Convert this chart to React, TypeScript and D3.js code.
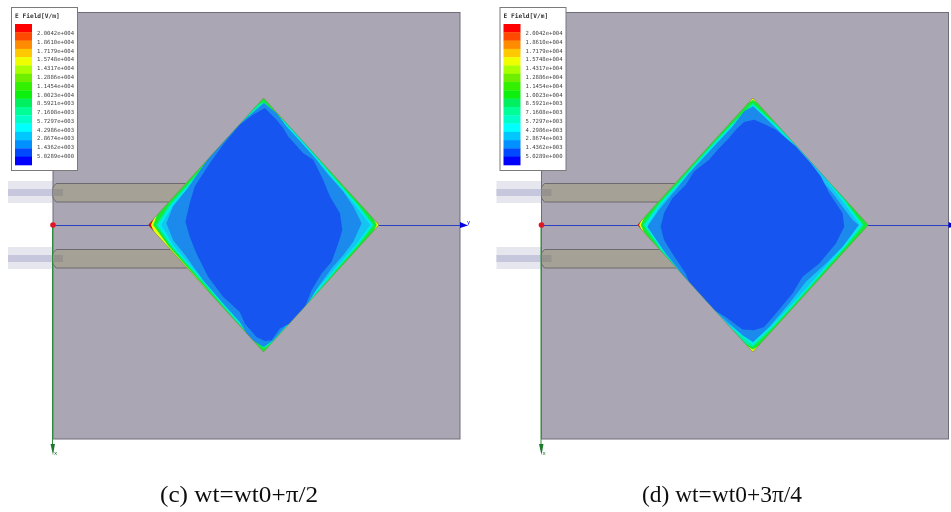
import React from "react";
import * as d3 from "d3";

// ---- legend ----
const legendTitle = "E Field[V/m]";
const legendLabels = ["2.0042e+004","1.8610e+004","1.7179e+004","1.5748e+004","1.4317e+004","1.2886e+004","1.1454e+004","1.0023e+004","8.5921e+003","7.1608e+003","5.7297e+003","4.2986e+003","2.8674e+003","1.4362e+003","5.0289e+000"];
const legendColors = ["#ff0000","#ff4a00","#ff8c00","#ffc800","#f0ff00","#aaff00","#6eee00","#30f000","#10f010","#00f060","#00ff96","#00ffc8","#00ffff","#00c8ff","#0090ff","#0048ff","#0000ff"];

// ---- contour levels, scale factor towards the patch centre, sampled clockwise from the top vertex (24 samples) ----
const cYellow = [1,1,1,1,1,1,1,1,1,1,1,1,1,1,1,1,1,1,0.975,1,1,1,1,1];
const cGreen  = [1,1,1,1,1,1,0.98,1,1,1,1,1,1,1,1,0.997,0.993,0.988,0.955,1,1,1,1,1];
const cTeal   = [0.97,0.995,1,0.995,0.985,0.98,0.955,0.98,0.985,0.995,1,1,0.97,0.995,0.99,0.98,0.975,0.97,0.93,0.975,0.975,0.985,0.995,1];
const cCyan   = [0.96,0.99,0.995,0.985,0.975,0.97,0.945,0.97,0.975,0.985,0.99,0.995,0.96,0.985,0.98,0.97,0.965,0.96,0.915,0.96,0.965,0.975,0.99,0.995];
const cSky    = [0.94,0.975,0.98,0.97,0.96,0.95,0.925,0.955,0.96,0.97,0.975,0.98,0.94,0.97,0.965,0.955,0.95,0.94,0.885,0.94,0.95,0.96,0.975,0.98];
const dYellow = [1,1,1,1,1,1,1,1,1,1,1,1,1,1,1,1,1,1,0.985,1,1,1,1,1];
const dGreen  = [0.985,1,1,1,1,1,1,1,1,1,1,1,0.98,1,1,1,1,1,0.97,1,1,1,1,1];
const dTeal   = [0.96,0.985,1,1,1,0.985,0.96,0.975,0.98,0.985,0.985,0.98,0.96,1,1,1,1,0.985,0.95,0.98,0.98,0.985,0.985,0.975];
const dCyan   = [0.945,0.975,0.995,1,0.995,0.975,0.945,0.965,0.97,0.975,0.975,0.97,0.945,0.99,1,1,0.995,0.975,0.935,0.97,0.97,0.975,0.975,0.965];
const dSky    = [0.925,0.96,0.985,1,0.985,0.96,0.925,0.95,0.955,0.96,0.96,0.955,0.925,0.975,1,1,0.985,0.96,0.91,0.955,0.955,0.96,0.96,0.95];
const bandColors = ["#e8ff00","#18e838","#00f0a0","#00ecec","#14c4f2"];

// ---- inner contours in patch units (x 25..717, y 25..785) ----
const cLightX = [372,410,440,490,530,565,610,640,665,640,610,575,535,500,440,400,372,330,300,250,190,140,100,80,100,140,175,220,270,320];
const cLightY = [40,70,110,165,210,255,305,350,400,455,495,535,590,645,705,750,770,745,695,640,570,500,450,400,350,300,250,185,130,85];
const cDarkX = [375,410,430,445,490,520,550,570,600,607,595,575,545,515,495,450,420,395,375,350,315,300,250,205,170,150,137,150,165,210,250,300,340];
const cDarkY = [55,90,115,140,190,210,270,320,370,420,460,515,550,600,650,700,715,750,752,740,700,665,620,560,490,440,395,340,290,220,165,105,75];
const dLightX = [372,410,440,490,530,560,610,670,688,640,590,530,480,420,372,340,290,240,180,150,110,55,90,140,180,250,310,345];
const dLightY = [50,85,115,165,210,250,310,390,405,470,520,575,640,710,755,735,690,645,580,540,490,410,360,300,250,175,110,65];
const dDarkX = [375,345,320,300,270,240,195,170,130,105,95,105,130,170,190,240,290,340,375,405,440,490,520,570,620,645,640,600,575,545,500,440,410];
const dDarkY = [90,97,120,145,175,210,245,285,325,370,410,450,490,550,600,650,680,718,720,710,670,610,560,520,460,410,370,310,260,220,170,120,105];

const captions = ["(c) wt=wt0+π/2", "(d) wt=wt0+3π/4"];
const stripes = [183, 249];

const patchX = d3.scaleLinear().domain([25, 717]).range([148, 379]);
const patchY = d3.scaleLinear().domain([25, 785]).range([98, 352]);
const cx = 371, cy = 405;

const perim = (i: number): [number, number] => {
  const corners: [number, number][] = [[cx, 25], [717, cy], [cx, 785], [25, cy]];
  const e = Math.floor(i / 6) % 4;
  const t = (i % 6) / 6;
  const a = corners[e], b = corners[(e + 1) % 4];
  return [a[0] + (b[0] - a[0]) * t, a[1] + (b[1] - a[1]) * t];
};
const line = d3.line<[number, number]>().x(d => patchX(d[0])).y(d => patchY(d[1])).curve(d3.curveLinearClosed);
// samples that reach the edge are pushed outside it, the clip trims them
const bandPath = (s: number[]) => line(s.map((v, i) => {
  const [x, y] = perim(i);
  const k = v >= 1 ? 1.06 : v;
  return [cx + (x - cx) * k, cy + (y - cy) * k] as [number, number];
}))!;
const polyPath = (xs: number[], ys: number[]) => line(xs.map((x, i) => [x, ys[i]] as [number, number]))!;
const diamond = line(d3.range(24).map(perim))!;

const legendY = d3.scaleBand<number>().domain(d3.range(legendColors.length)).range([24, 165]);
const labelY = d3.scalePoint<number>().domain(d3.range(legendLabels.length)).range([33, 156]);

function Panel({ id, bands, light, dark, caption, captionX, captionW, dx, shift, clipRight, showY }: any) {
  return (
    <g transform={`translate(${dx},0)`}>
      {stripes.map(y => (
        <g key={y}>
          <rect x={8} y={y - 2} width={45} height={22} fill="#e6e6ee" />
          <rect x={8} y={y + 6} width={45} height={7} fill="#c6c6dc" />
        </g>
      ))}
      <rect x={53} y={12.5} width={407} height={426.5} fill="#aba6b4" stroke="#6f6c78" strokeWidth={1} />
      {stripes.map(y => (
        <g key={y}>
          <path d={`M56,${y + 0.5}H190V${y + 19}H56L53,${y + 15}V${y + 4}Z`} fill="#a6a196" stroke="#6c6a6e" strokeWidth={1} />
          <rect x={53} y={y + 6} width={10} height={7} fill="#96928e" />
        </g>
      ))}
      <line x1={53} x2={clipRight} y1={225.5} y2={225.5} stroke="#2a3fc0" strokeWidth={1} />
      <path d={`M460,222L468,225.5L460,228Z`} fill="#0000e0" />
      {showY && <text x={467} y={224} fontSize={5.5} fill="#0000e0" fontFamily="DejaVu Sans">y</text>}
      <line x1={52.5} x2={52.5} y1={225} y2={450} stroke="#2f8a3c" strokeWidth={1} />
      <path d={`M50.5,444L53,455L55,444Z`} fill="#1f7a2c" />
      <text x={54} y={455} fontSize={5.5} fill="#1f7a2c" fontFamily="DejaVu Sans">x</text>
      <circle cx={53} cy={225} r={2.8} fill="#e01820" />
      <g transform={`translate(${shift},0)`}>
        <clipPath id={id}><path d={diamond} /></clipPath>
        <g clipPath={`url(#${id})`}>
          <path d={diamond} fill="#e01010" />
          {bands.map((b: number[], i: number) => <path key={i} d={bandPath(b)} fill={bandColors[i]} />)}
          <path d={polyPath(light[0], light[1])} fill="#1a8aec" />
          <path d={polyPath(dark[0], dark[1])} fill="#1655f0" />
        </g>
        <path d={diamond} fill="none" stroke="#6f7a70" strokeWidth={0.7} strokeOpacity={0.8} />
      </g>
      <rect x={11.5} y={7.5} width={66} height={163} fill="#fff" stroke="#7a7a7a" strokeWidth={1} />
      <text x={15} y={18} fontSize={6.2} fontWeight={700} fill="#333" fontFamily="DejaVu Sans Mono">{legendTitle}</text>
      {legendColors.map((c, i) => (
        <rect key={c} x={15} y={legendY(i)} width={17} height={legendY.bandwidth() + 0.3} fill={c} />
      ))}
      {legendLabels.map((l, i) => (
        <text key={l} x={37} y={labelY(i)! + 2} fontSize={5.6} fill="#444" fontFamily="DejaVu Sans Mono">{l}</text>
      ))}
      <text x={captionX} y={502} textAnchor="middle" fontSize={23} fill="#111" fontFamily="Liberation Serif"
        textLength={captionW} lengthAdjust="spacingAndGlyphs">{caption}</text>
    </g>
  );
}

export default function App() {
  return (
    <svg width={951} height={512} style={{ position: "absolute", left: 0, top: 0, background: "#fff" }}>
      <filter id="soft" x="0" y="0" width="100%" height="100%"><feGaussianBlur stdDeviation={0.35} /></filter>
      <g filter="url(#soft)">
        <rect width={951} height={512} fill="#fff" />
        <Panel id="pc" dx={0} shift={0} clipRight={460} showY caption={captions[0]} captionX={239} captionW={158}
          bands={[cYellow, cGreen, cTeal, cCyan, cSky]} light={[cLightX, cLightY]} dark={[cDarkX, cDarkY]} />
        <Panel id="pd" dx={488.5} shift={0.8} clipRight={463} showY={false} caption={captions[1]} captionX={233.5} captionW={160}
          bands={[dYellow, dGreen, dTeal, dCyan, dSky]} light={[dLightX, dLightY]} dark={[dDarkX, dDarkY]} />
      </g>
    </svg>
  );
}
